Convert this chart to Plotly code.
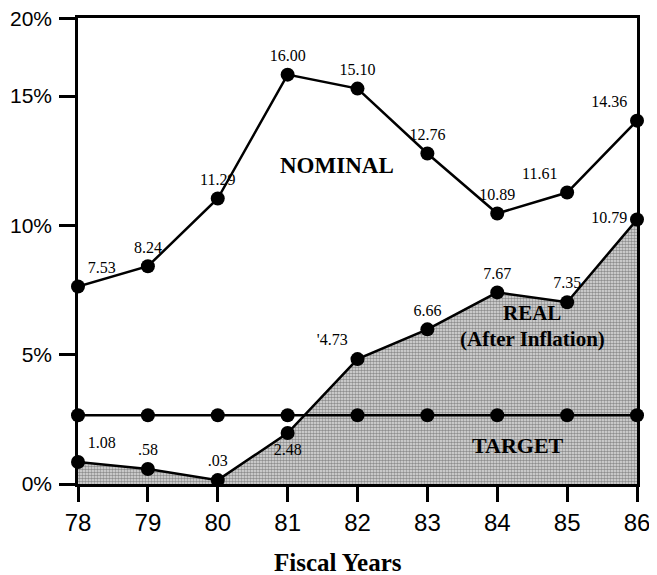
import plotly.graph_objects as go

years = [78, 79, 80, 81, 82, 83, 84, 85, 86]
nominal = [7.64, 8.42, 11.04, 15.83, 15.29, 12.78, 10.46, 11.27, 14.05]
nominal_labels = ["7.53", "8.24", "11.29", "16.00", "15.10", "12.76", "10.89", "11.61", "14.36"]
real = [0.85, 0.58, 0.15, 1.97, 4.83, 5.98, 7.41, 7.03, 10.23]
real_labels = ["1.08", ".58", ".03", "2.48", "'4.73", "6.66", "7.67", "7.35", "10.79"]
target = [2.66] * 9
y_tickvals = [0, 5, 10, 15, 18.0]
y_ticktext = ["0%", "5%", "10%", "15%", "20%"]

serif = "Liberation Serif, Times New Roman, serif"
sans = "Liberation Sans, Arial, sans-serif"

fig = go.Figure()

fig.add_trace(go.Scatter(
    x=years, y=real, mode="none", fill="tozeroy",
    fillcolor="#c8c8c8",
    fillpattern=dict(shape=".", size=3, solidity=0.55, fgcolor="#3c3c3c", bgcolor="#e0e0e0"),
    hoverinfo="skip", showlegend=False,
))

marker = dict(color="black", size=14)
line = dict(color="black", width=2.5)

fig.add_trace(go.Scatter(
    x=years, y=target, mode="lines+markers", line=line, marker=marker,
    cliponaxis=False, showlegend=False,
))

fig.add_trace(go.Scatter(
    x=years, y=real, mode="lines+markers+text", line=line, marker=marker,
    text=real_labels,
    textposition=["top right", "top center", "top center", "bottom center", "top left",
                  "top center", "top center", "top center", "middle left"],
    textfont=dict(family=serif, size=16, color="black"),
    cliponaxis=False, showlegend=False,
))

fig.add_trace(go.Scatter(
    x=years, y=nominal, mode="lines+markers+text", line=line, marker=marker,
    text=nominal_labels,
    textposition=["top right", "top center", "top center", "top center", "top center",
                  "top center", "top center", "top left", "top left"],
    textfont=dict(family=serif, size=16, color="black"),
    cliponaxis=False, showlegend=False,
))

ann_font = dict(family=serif, size=22, color="black", weight="bold")
fig.add_annotation(x=81.7, y=12.3, text="NOMINAL", showarrow=False,
                   font=dict(family=serif, size=23, color="black", weight="bold"))
fig.add_annotation(x=84.5, y=6.6, text="REAL", showarrow=False, font=dict(family=serif, size=21, color="black", weight="bold"))
fig.add_annotation(x=84.5, y=5.6, text="(After Inflation)", showarrow=False, font=dict(family=serif, size=21, color="black", weight="bold"))
fig.add_annotation(x=84.3, y=1.5, text="TARGET", showarrow=False, font=ann_font)
fig.add_annotation(x=0.465, xref="paper", y=0, yref="paper", yanchor="top", yshift=-63,
                   text="Fiscal Years", showarrow=False,
                   font=dict(family=serif, size=25, color="black", weight="bold"))

fig.update_layout(
    width=649, height=567,
    margin=dict(l=70, r=20, t=10, b=91),
    paper_bgcolor="white", plot_bgcolor="white",
    xaxis=dict(
        range=[78, 86], tickvals=years, ticktext=[str(y) for y in years],
        showgrid=False, zeroline=False, automargin=False,
        showline=True, linecolor="black", linewidth=2.5, mirror=True,
        ticks="outside", ticklen=15, tickwidth=2.5, tickcolor="black",
        tickfont=dict(family=sans, size=24, color="black"),
    ),
    yaxis=dict(
        range=[0, 18.02], tickvals=y_tickvals, ticktext=y_ticktext,
        showgrid=False, zeroline=False, automargin=False,
        ticklabeloverflow="allow", ticklabelstandoff=3,
        showline=True, linecolor="black", linewidth=2.5, mirror=True,
        ticks="outside", ticklen=16, tickwidth=2.5, tickcolor="black",
        tickfont=dict(family=sans, size=21, color="black"),
    ),
)

fig.write_html("out.html")
